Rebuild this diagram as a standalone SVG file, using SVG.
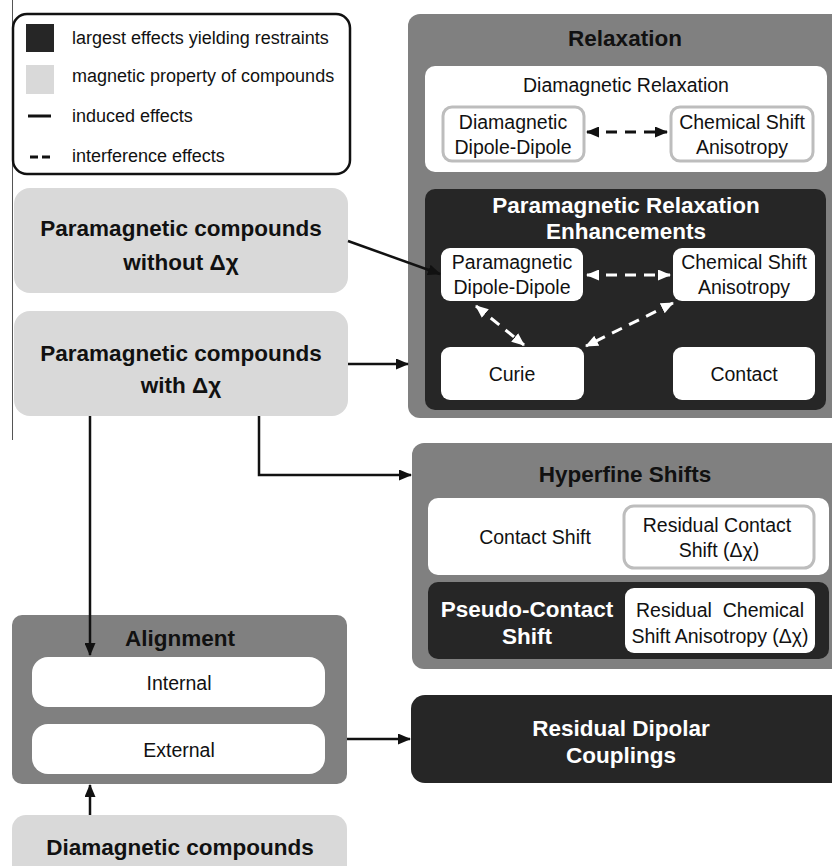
<svg xmlns="http://www.w3.org/2000/svg" width="832" height="866" viewBox="0 0 832 866">
<defs>
<style>
text{font-family:"Liberation Sans",Arial,sans-serif;text-anchor:middle;dominant-baseline:central}
.b{font-weight:bold;font-size:22.5px}
.r{font-size:19.5px}
.lg{font-size:18px;text-anchor:start}
.w{fill:#fff}
.k{fill:#111}
.gray{fill:#808080}
.dark{fill:#262626}
.light{fill:#d9d9d9}
.white{fill:#fff}
.sub{fill:#fff;stroke:#bdbdbd;stroke-width:3}
.ln{stroke:#111;stroke-width:2.5;fill:none}
.dk{stroke:#111;stroke-width:3;fill:none;stroke-dasharray:11 8}
.dw{stroke:#fff;stroke-width:3;fill:none;stroke-dasharray:11 8}
</style>
<marker id="ak" markerUnits="userSpaceOnUse" markerWidth="13" markerHeight="11" refX="12" refY="5.5" orient="auto-start-reverse"><path d="M0,0 L13,5.5 L0,11 z" fill="#111"/></marker>
<marker id="aw" markerUnits="userSpaceOnUse" markerWidth="13" markerHeight="11" refX="12" refY="5.5" orient="auto-start-reverse"><path d="M0,0 L13,5.5 L0,11 z" fill="#fff"/></marker>
</defs>
<rect width="832" height="866" fill="#fff"/>
<line x1="12.5" y1="0" x2="12.5" y2="440" stroke="#555" stroke-width="1"/>

<g id="legend">
<rect x="13" y="14" width="337" height="160" rx="14" fill="#fff" stroke="#111" stroke-width="2.5"/>
<rect x="26" y="24" width="28" height="28" class="dark"/>
<rect x="26" y="65" width="28" height="29" class="light"/>
<line x1="28" y1="116" x2="51" y2="116" stroke="#111" stroke-width="3"/>
<line x1="30" y1="157" x2="51" y2="157" stroke="#111" stroke-width="3" stroke-dasharray="8 4"/>
<text class="lg k" x="72" y="38">largest effects yielding restraints</text>
<text class="lg k" x="72" y="76">magnetic property of compounds</text>
<text class="lg k" x="72" y="116">induced effects</text>
<text class="lg k" x="72" y="156">interference effects</text>
</g>

<g id="para-without">
<rect x="14" y="188" width="334" height="105" rx="16" class="light"/>
<text class="b k" x="181" y="228">Paramagnetic compounds</text>
<text class="b k" x="181" y="262">without Δχ</text>
</g>

<g id="para-with">
<rect x="14" y="311" width="334" height="105" rx="16" class="light"/>
<text class="b k" x="181" y="353">Paramagnetic compounds</text>
<text class="b k" x="181" y="385">with Δχ</text>
</g>

<g id="relaxation">
<rect x="408" y="14" width="440" height="404" rx="12" class="gray"/>
<text class="b k" x="625" y="38">Relaxation</text>
</g>
<g id="diamagnetic-relaxation">
<rect x="425" y="66" width="402" height="106" rx="10" class="white"/>
<text class="r k" x="626" y="85">Diamagnetic Relaxation</text>
</g>
<g id="dia-dd">
<rect x="443" y="107" width="141" height="54" rx="9" class="sub"/>
<text class="r k" x="513" y="122">Diamagnetic</text>
<text class="r k" x="513" y="147">Dipole-Dipole</text>
</g>
<g id="dia-csa">
<rect x="671" y="107" width="142" height="54" rx="9" class="sub"/>
<text class="r k" x="742" y="122">Chemical Shift</text>
<text class="r k" x="742" y="147">Anisotropy</text>
</g>

<g id="pre">
<rect x="425" y="189" width="401" height="221" rx="10" class="dark"/>
<text class="b w" x="626" y="205">Paramagnetic Relaxation</text>
<text class="b w" x="626" y="231">Enhancements</text>
</g>
<g id="para-dd">
<rect x="441" y="248" width="142" height="53" rx="9" class="white"/>
<text class="r k" x="512" y="262">Paramagnetic</text>
<text class="r k" x="512" y="287">Dipole-Dipole</text>
</g>
<g id="para-csa">
<rect x="673" y="248" width="142" height="53" rx="9" class="white"/>
<text class="r k" x="744" y="262">Chemical Shift</text>
<text class="r k" x="744" y="287">Anisotropy</text>
</g>
<g id="curie">
<rect x="441" y="347" width="143" height="53" rx="9" class="white"/>
<text class="r k" x="512" y="374">Curie</text>
</g>
<g id="contact">
<rect x="673" y="347" width="142" height="53" rx="9" class="white"/>
<text class="r k" x="744" y="374">Contact</text>
</g>

<g id="hyperfine">
<rect x="412" y="443" width="436" height="226" rx="12" class="gray"/>
<text class="b k" x="625" y="474">Hyperfine Shifts</text>
</g>
<g id="contact-shift">
<rect x="428" y="498" width="401" height="77" rx="10" class="white"/>
<text class="r k" x="535" y="537">Contact Shift</text>
</g>
<g id="residual-contact">
<rect x="624" y="506" width="190" height="62" rx="10" class="sub"/>
<text class="r k" x="717" y="525">Residual Contact</text>
<text class="r k" x="719" y="550">Shift (Δχ)</text>
</g>
<g id="pcs">
<rect x="428" y="582" width="401" height="77" rx="10" class="dark"/>
<text class="b w" x="527" y="609">Pseudo-Contact</text>
<text class="b w" x="527" y="636">Shift</text>
</g>
<g id="residual-csa">
<rect x="625" y="588" width="190" height="65" rx="9" class="white"/>
<text class="r k" x="720" y="610" xml:space="preserve">Residual  Chemical</text>
<text class="r k" x="720" y="636">Shift Anisotropy (Δχ)</text>
</g>

<g id="alignment">
<rect x="12" y="615" width="335" height="169" rx="10" class="gray"/>
<text class="b k" x="180" y="638">Alignment</text>
</g>
<g id="internal">
<rect x="32" y="657" width="293" height="50" rx="16" class="white"/>
<text class="r k" x="179" y="683">Internal</text>
</g>
<g id="external">
<rect x="32" y="724" width="293" height="50" rx="16" class="white"/>
<text class="r k" x="179" y="750">External</text>
</g>

<g id="rdc">
<rect x="411" y="695" width="440" height="88" rx="14" class="dark"/>
<text class="b w" x="621" y="728">Residual Dipolar</text>
<text class="b w" x="621" y="755">Couplings</text>
</g>

<g id="diamagnetic-compounds">
<rect x="12" y="815" width="335" height="70" rx="14" class="light"/>
<text class="b k" x="180" y="847">Diamagnetic compounds</text>
</g>

<g id="connectors">
<line class="ln" x1="348" y1="241" x2="440" y2="274" marker-end="url(#ak)"/>
<line class="ln" x1="348" y1="364" x2="408" y2="364" marker-end="url(#ak)"/>
<line class="ln" x1="90" y1="416" x2="90" y2="655" marker-end="url(#ak)"/>
<path class="ln" d="M259,416 V475 H411" marker-end="url(#ak)"/>
<line class="ln" x1="347" y1="739" x2="410" y2="739" marker-end="url(#ak)"/>
<line class="ln" x1="90" y1="815" x2="90" y2="785" marker-end="url(#ak)"/>
<line class="dk" x1="587" y1="132" x2="667" y2="132" marker-start="url(#ak)" marker-end="url(#ak)"/>
<line class="dw" x1="587" y1="275" x2="670" y2="275" marker-start="url(#aw)" marker-end="url(#aw)"/>
<line class="dw" x1="476" y1="306" x2="524" y2="345" marker-start="url(#aw)" marker-end="url(#aw)"/>
<line class="dw" x1="673" y1="303" x2="586" y2="346" marker-start="url(#aw)" marker-end="url(#aw)"/>
</g>
</svg>
